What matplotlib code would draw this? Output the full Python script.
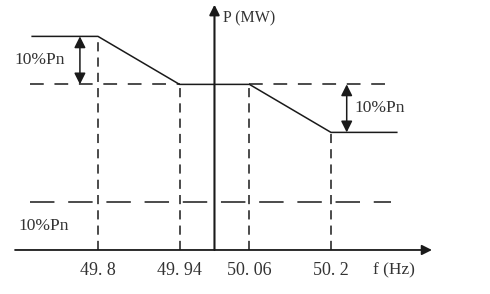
import matplotlib
matplotlib.use("Agg")
import matplotlib.pyplot as plt

# frequency breakpoints (Hz) and power levels (%Pn, schematic)
f_ticks = [49.8, 49.94, 50.06, 50.2]
tick_labels = ["49. 8", "49. 94", "50. 06", "50. 2"]
curve_f = [49.687, 49.8, 49.94, 50.06, 50.2, 50.313]
curve_p = [44.5, 44.5, 34.5, 34.5, 24.5, 24.5]
p_top, p_mid, p_low, p_ref = 44.5, 34.5, 24.5, 10.0

plt.rcParams['font.family'] = ['Liberation Serif', 'DejaVu Serif']

fig = plt.figure(figsize=(4.9, 2.94), dpi=100)
ax = fig.add_axes([0, 0, 1, 1])
ax.set_xlim(49.6318, 50.473)
ax.set_ylim(-9.17, 52.08)
ax.axis("off")

lw = 1.1
col = "#1a1a1a"
tcol = "#333333"

# axes with arrows
ax.annotate("", xy=(50.3734, 0), xytext=(49.6576, 0),
            arrowprops=dict(arrowstyle="-|>", color=col, lw=1.3, mutation_scale=15,
                            shrinkA=0, shrinkB=0))
ax.annotate("", xy=(50.0, 51.1), xytext=(50.0, 0),
            arrowprops=dict(arrowstyle="-|>", color=col, lw=1.5, mutation_scale=15,
                            shrinkA=0, shrinkB=0))

# power-frequency curve
ax.plot(curve_f, curve_p, color=col, lw=lw)

# dashed guide lines
short = (0, (6, 4))
ax.plot([curve_f[1], curve_f[1]], [0, p_top], color=col, lw=lw, ls=short)
ax.plot([curve_f[2], curve_f[2]], [0, p_mid], color=col, lw=lw, ls=short)
ax.plot([curve_f[3], curve_f[3]], [0, p_mid], color=col, lw=lw, ls=short)
ax.plot([curve_f[4], curve_f[4]], [0, p_low], color=col, lw=lw, ls=short)
ax.plot([49.683, curve_f[2]], [p_mid, p_mid], color=col, lw=lw, ls=(0, (9, 7)))
ax.plot([curve_f[3], 50.310], [p_mid, p_mid], color=col, lw=lw, ls=(0, (9, 7)))
ax.plot([49.683, 50.303], [p_ref, p_ref], color=col, lw=lw, ls=(0, (16, 9)))

# 10%Pn double arrows
ax.annotate("", xy=(49.769, p_mid), xytext=(49.769, p_top),
            arrowprops=dict(arrowstyle="<|-|>", color=col, lw=lw, mutation_scale=17,
                            shrinkA=0, shrinkB=0))
ax.annotate("", xy=(50.227, p_low), xytext=(50.227, p_mid),
            arrowprops=dict(arrowstyle="<|-|>", color=col, lw=lw, mutation_scale=17,
                            shrinkA=0, shrinkB=0))

fs = 12.5
ax.text(49.656, (p_top + p_mid) / 2, "10%Pn", fontsize=fs, va="center", ha="left", color=tcol)
ax.text(50.241, (p_mid + p_low) / 2, "10%Pn", fontsize=fs, va="center", ha="left", color=tcol)
ax.text(49.664, 5.1, "10%Pn", fontsize=fs, va="center", ha="left", color=tcol)

ax.text(50.014, 48.2, "P (MW)", fontsize=fs - 1, va="center", ha="left", color=tcol)
ax.text(50.272, -4.2, "f (Hz)", fontsize=fs, va="center", ha="left", color=tcol)

for f, lab in zip(f_ticks, tick_labels):
    ax.text(f, -4.2, lab, fontsize=fs + 0.5, va="center", ha="center", color=tcol)

fig.savefig("out.png", dpi=100)
